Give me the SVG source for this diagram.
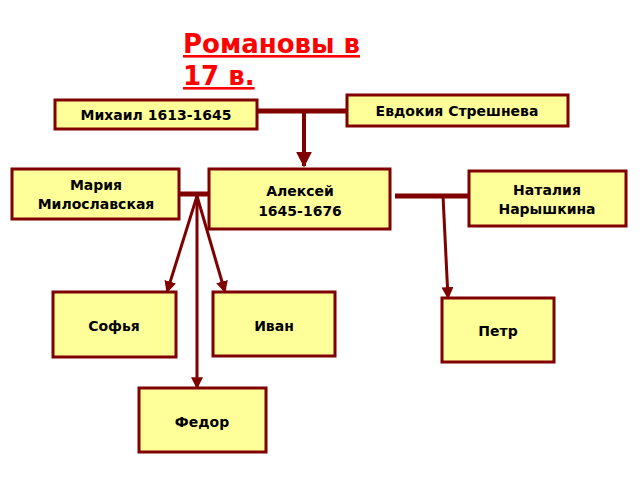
<svg xmlns="http://www.w3.org/2000/svg" width="640" height="480" viewBox="0 0 640 480">
<style>
.b{fill:#ffff99;stroke:#800000;stroke-width:3}
.t{font-family:"DejaVu Sans",sans-serif;font-weight:bold;font-size:14px;fill:#000;text-anchor:middle}
.l{stroke:#800000;fill:none}
</style>
<defs><marker id="a" viewBox="0 0 10 10" refX="9" refY="5" markerWidth="4" markerHeight="4" orient="auto"><path d="M0,0L10,5L0,10z" fill="#800000"/></marker></defs>
<rect width="640" height="480" fill="#fff"/>
<g id="title"><text x="183" y="53" font-family="DejaVu Sans,sans-serif" font-weight="bold" font-size="26" fill="#ff0000" text-decoration="underline">Романовы в</text><text x="183" y="85" font-family="DejaVu Sans,sans-serif" font-weight="bold" font-size="26" fill="#ff0000" text-decoration="underline">17 в.</text></g>
<g id="connectors">
<path class="l" stroke-width="5" d="M257,111H347"/>
<path class="l" stroke-width="4" d="M304,111V166" marker-end="url(#a)"/>
<path class="l" stroke-width="5" d="M179,194H209"/>
<path class="l" stroke-width="5" d="M395,196H469"/>
<path class="l" stroke-width="3" d="M197,196L167,292" marker-end="url(#a)"/>
<path class="l" stroke-width="3" d="M197,196L225,292" marker-end="url(#a)"/>
<path class="l" stroke-width="3" d="M197,196V388" marker-end="url(#a)"/>
<path class="l" stroke-width="3" d="M443,196L448,298" marker-end="url(#a)"/>
</g>
<g id="mikhail"><rect class="b" x="55" y="100" width="202" height="29"/><text class="t" x="156" y="120">Михаил 1613-1645</text></g>
<g id="evdokia"><rect class="b" x="347" y="95" width="221" height="31"/><text class="t" x="457" y="116">Евдокия Стрешнева</text></g>
<g id="maria"><rect class="b" x="12" y="169" width="167" height="50"/><text class="t" x="96" y="190">Мария</text><text class="t" x="96" y="209">Милославская</text></g>
<g id="aleksei"><rect class="b" x="209" y="169" width="181" height="60"/><text class="t" x="300" y="196">Алексей</text><text class="t" x="300" y="216">1645-1676</text></g>
<g id="natalia"><rect class="b" x="469" y="171" width="157" height="55"/><text class="t" x="547" y="195">Наталия</text><text class="t" x="547" y="214">Нарышкина</text></g>
<g id="sofia"><rect class="b" x="53" y="292" width="123" height="65"/><text class="t" x="114" y="331">Софья</text></g>
<g id="ivan"><rect class="b" x="213" y="292" width="122" height="64"/><text class="t" x="274" y="331">Иван</text></g>
<g id="petr"><rect class="b" x="442" y="298" width="112" height="64"/><text class="t" x="498" y="336">Петр</text></g>
<g id="fedor"><rect class="b" x="139" y="388" width="127" height="64"/><text class="t" x="202" y="427">Федор</text></g>
</svg>
